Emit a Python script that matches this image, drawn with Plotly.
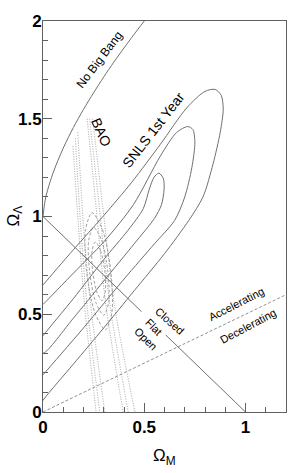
import plotly.graph_objects as go

# ---- data ----
# No Big Bang boundary
nbb_om = [0.0, 0.01, 0.02, 0.05, 0.10, 0.15, 0.20, 0.25, 0.30, 0.35, 0.40, 0.45, 0.50]
nbb_ol = [1.0, 1.08, 1.125, 1.224, 1.350, 1.455, 1.548, 1.633, 1.714, 1.790, 1.862, 1.932, 2.0]

# SNLS 1st year contours (closed)
snls_outer_om = [-0.05, 0.0, 0.15, 0.30, 0.45, 0.60, 0.72, 0.79, 0.84, 0.875, 0.89, 0.88, 0.85, 0.80, 0.71, 0.58, 0.438, 0.30, 0.15, 0.0, -0.05]
snls_outer_ol = [-0.02, 0.06, 0.245, 0.43, 0.62, 0.81, 0.98, 1.10, 1.27, 1.43, 1.55, 1.62, 1.65, 1.64, 1.556, 1.37, 1.175, 1.005, 0.83, 0.65, 0.59]
snls_mid_om = [-0.05, 0.0, 0.20, 0.40, 0.55, 0.65, 0.70, 0.735, 0.75, 0.74, 0.715, 0.66, 0.58, 0.446, 0.30, 0.15, 0.0, -0.05]
snls_mid_ol = [0.13, 0.19, 0.43, 0.68, 0.86, 0.98, 1.10, 1.25, 1.38, 1.445, 1.46, 1.43, 1.31, 1.06, 0.87, 0.71, 0.55, 0.50]
snls_in_om = [0.0, 0.15, 0.30, 0.45, 0.55, 0.585, 0.598, 0.594, 0.572, 0.548, 0.525, 0.495, 0.42, 0.30, 0.15, 0.0, -0.02, -0.02, 0.0]
snls_in_ol = [0.30, 0.48, 0.67, 0.86, 0.99, 1.06, 1.14, 1.195, 1.222, 1.20, 1.14, 1.04, 0.93, 0.78, 0.58, 0.39, 0.36, 0.32, 0.30]

# BAO contours (dotted, open bands)
bao_lines_om = [
    [0.148, 0.175, 0.205, 0.262],
    [0.160, 0.186, 0.217, 0.280],
    [0.172, 0.200, 0.235, 0.305],
    [0.218, 0.262, 0.310, 0.396],
    [0.230, 0.278, 0.330, 0.421],
    [0.245, 0.295, 0.352, 0.454],
]
bao_lines_ol = [
    [1.36, 0.95, 0.55, 0.0],
    [1.40, 0.95, 0.55, 0.0],
    [1.43, 0.95, 0.55, 0.0],
    [1.50, 1.05, 0.55, 0.0],
    [1.50, 1.05, 0.55, 0.0],
    [1.50, 1.05, 0.55, 0.0],
]

# combined SNLS+BAO contours (dashed, closed)
comb_om = [
    [0.242, 0.294, 0.335, 0.340, 0.308, 0.256, 0.215, 0.210, 0.242],
    [0.250, 0.2895, 0.320, 0.3245, 0.300, 0.2605, 0.230, 0.2255, 0.250],
    [0.2585, 0.2843, 0.305, 0.3077, 0.2915, 0.2657, 0.245, 0.2423, 0.2585],
]
comb_ol = [
    [1.02, 0.932, 0.72, 0.508, 0.42, 0.508, 0.72, 0.932, 1.02],
    [0.945, 0.879, 0.72, 0.561, 0.495, 0.561, 0.72, 0.879, 0.945],
    [0.87, 0.826, 0.72, 0.614, 0.57, 0.614, 0.72, 0.826, 0.87],
]

# flat universe line (with gap for labels) and acceleration line
flat_om = [0.0, 0.487, None, 0.606, 1.0]
flat_ol = [1.0, 0.513, None, 0.394, 0.0]
acc_om = [0.0, 1.2]
acc_ol = [0.0, 0.6]

x_ticks = [0, 0.5, 1]
x_ticklabels = ["0", "0.5", "1"]
y_ticks = [0, 0.5, 1, 1.5, 2]
y_ticklabels = ["0", "0.5", "1", "1.5", "2"]

FONT = "Liberation Sans, Arial, Helvetica, sans-serif"
LINE = "#707070"

fig = go.Figure()

def add_line(x, y, dash="solid", color=LINE, width=1, shape="spline"):
    fig.add_trace(go.Scatter(x=x, y=y, mode="lines", hoverinfo="skip",
                             line=dict(color=color, width=width, dash=dash, shape=shape,
                                       smoothing=0.8),
                             showlegend=False))

for xs, ys in zip(bao_lines_om, bao_lines_ol):
    add_line(xs, ys, dash="1px,1.5px", color="#a0a0a0", width=1)
for xs, ys in zip(comb_om, comb_ol):
    add_line(xs, ys, dash="3px,2px", color="#a0a0a0", width=1)

add_line(snls_outer_om, snls_outer_ol)
add_line(snls_mid_om, snls_mid_ol)
add_line(snls_in_om, snls_in_ol)
add_line(nbb_om, nbb_ol)
add_line(flat_om, flat_ol, shape="linear")
add_line(acc_om, acc_ol, dash="3px,2px", color="#909090", shape="linear")

def label(text, x, y, angle, size):
    fig.add_annotation(x=x, y=y, xref="x", yref="y", text=text, showarrow=False,
                       textangle=angle, font=dict(family=FONT, size=size, color="black"),
                       xanchor="center", yanchor="middle")

label("No Big Bang", 0.278, 1.80, -53, 12)
label("BAO", 0.286, 1.430, 66, 14)
label("SNLS 1st Year", 0.545, 1.441, -52, 14)
label("Closed", 0.627, 0.468, 42, 11)
label("Flat", 0.548, 0.437, 45, 11)
label("Open", 0.508, 0.371, 45, 11)
label("Accelerating", 0.954, 0.553, -27, 11)
label("Decelerating", 1.013, 0.442, -28, 11)

fig.add_annotation(x=-0.119, y=1.0, xref="paper", yref="y", text="Ω<sub>Λ</sub>",
                   showarrow=False, textangle=-90, xanchor="center", yanchor="middle",
                   font=dict(family=FONT, size=17, color="black"))
fig.add_annotation(x=0.598, y=-0.114, xref="x", yref="paper", text="Ω<sub>M</sub>",
                   showarrow=False, xanchor="center", yanchor="middle",
                   font=dict(family=FONT, size=17, color="black"))

axis_common = dict(showgrid=False, zeroline=False, showline=True, linecolor="#606060",
                   linewidth=1, mirror=True, ticks="inside", ticklen=9, tickcolor="#606060",
                   tickwidth=1,
                   tickfont=dict(family=FONT, size=17, color="black"),
                   minor=dict(ticks="inside", ticklen=5, tickcolor="#606060", dtick=0.1,
                              showgrid=False))

fig.update_xaxes(range=[0, 1.2], tickvals=x_ticks,
                 ticktext=["<b>%s</b>" % t for t in x_ticklabels], **axis_common)
fig.update_yaxes(range=[0, 2], tickvals=y_ticks, ticklabelstandoff=-3,
                 ticktext=["<b>%s</b>" % t for t in y_ticklabels], **axis_common)

fig.update_layout(width=306, height=473, margin=dict(l=43, r=20, t=15, b=61),
                  paper_bgcolor="white", plot_bgcolor="white")

fig.write_html("out.html")
